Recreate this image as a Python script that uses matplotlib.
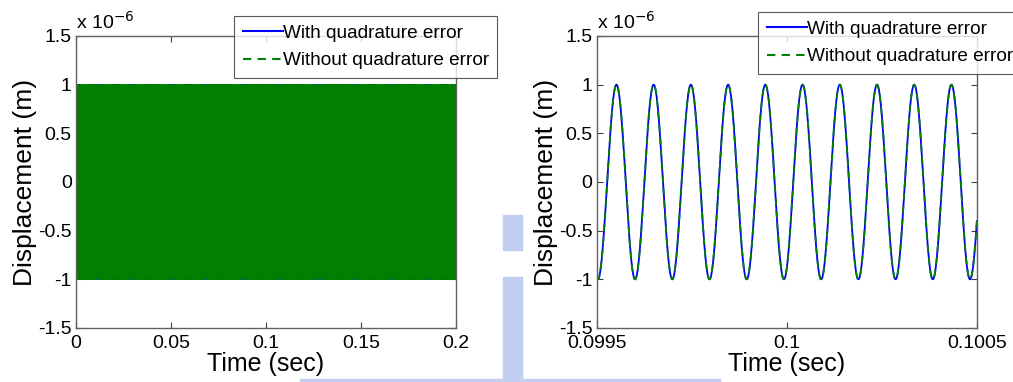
import numpy as np
import matplotlib
matplotlib.use("Agg")
import matplotlib.pyplot as plt
from matplotlib.ticker import FuncFormatter
from matplotlib.patches import Rectangle

# Drive-mode displacement parameters
amplitude = 1.0e-6          # m
drive_freq = 10.21e3        # Hz
trough_time = 0.099503      # s, a time where the displacement is at -amplitude
start_overshoot = 1.38e-6   # m, first sample of the response with quadrature error
t_end = 0.2                 # s

series_labels = ["With quadrature error", "Without quadrature error"]
y_ticks = [-1.5e-6, -1.0e-6, -0.5e-6, 0.0, 0.5e-6, 1.0e-6, 1.5e-6]
left_xticks = [0, 0.05, 0.1, 0.15, 0.2]
right_xticks = [0.0995, 0.1, 0.1005]
right_xlim = (0.0995, 0.1005)

t = np.linspace(0, t_end, 400001)
without_err = -amplitude * np.cos(2 * np.pi * drive_freq * (t - trough_time))
with_err = without_err.copy()
with_err[0] = start_overshoot

plt.rcParams["font.family"] = ["Liberation Sans", "DejaVu Sans"]

W, H = 1013, 382
fig = plt.figure(figsize=(W / 100, H / 100), dpi=100)

# faint logo in the background
wm = "#c3cff2"
for (x0, y0, w, h) in [(503, 215, 19, 35), (503, 277, 19, 105),
                       (300, 379, 420, 3)]:
    fig.patches.append(Rectangle((x0 / W, 1 - (y0 + h) / H), w / W, h / H,
                                 transform=fig.transFigure, color=wm, zorder=0))

axL = fig.add_axes([76 / W, (H - 328) / H, 380 / W, 292 / H])
axR = fig.add_axes([596.7 / W, (H - 328) / H, 380 / W, 292 / H])

fmt_y = FuncFormatter(lambda v, p: "%g" % round(v * 1e6, 3))

def style(ax, xticks, xlim):
    ax.set_xlim(*xlim)
    ax.set_ylim(-1.5e-6, 1.5e-6)
    ax.set_xticks(xticks)
    ax.set_xticklabels(["%g" % v for v in xticks])
    ax.set_yticks(y_ticks)
    ax.yaxis.set_major_formatter(fmt_y)
    ax.tick_params(direction="in", top=True, right=True, length=4,
                   width=0.8, labelsize=14, color="#404040")
    ax.tick_params(axis="x", pad=5)
    ax.tick_params(axis="y", pad=3)
    for s in ax.spines.values():
        s.set_color("#606060")
        s.set_linewidth(1.0)
    ax.set_xlabel("Time (sec)", fontsize=18, labelpad=0)
    ax.set_ylabel("Displacement (m)", fontsize=19, labelpad=1)
    ax.text(0.0, 1.01, r"x 10$^{-6}$", transform=ax.transAxes, fontsize=14,
            ha="left", va="bottom")

# left: whole run
axL.plot(t, with_err, color="#0000ff", lw=1.0, label=series_labels[0])
axL.plot(t, without_err, color="#007f00", lw=1.0, ls=(0, (4, 3)), label=series_labels[1])
style(axL, left_xticks, (0, t_end))

# right: zoom around 0.1 s
mask = (t >= right_xlim[0] - 1e-5) & (t <= right_xlim[1] + 1e-5)
axR.plot(t[mask], with_err[mask], color="#0000ff", lw=1.3, label=series_labels[0])
axR.plot(t[mask], without_err[mask], color="#007f00", lw=1.3, ls=(0, (4, 3)),
         label=series_labels[1])
style(axR, right_xticks, right_xlim)

for ax, anchor in [(axL, (234 / W, 1 - 78 / H)), (axR, (758 / W, 1 - 74 / H))]:
    leg = ax.legend(loc="lower left", bbox_to_anchor=anchor,
                    bbox_transform=fig.transFigure, fontsize=13.7, frameon=True,
                    fancybox=False, edgecolor="#303030", handlelength=2.1,
                    handletextpad=0.0, borderpad=0.45, labelspacing=0.55,
                    borderaxespad=0)
    leg.get_frame().set_linewidth(0.8)
    for line in leg.get_lines():
        line.set_linewidth(1.5)
    leg.set_zorder(5)

fig.savefig("out.png", dpi=100, facecolor="white")
